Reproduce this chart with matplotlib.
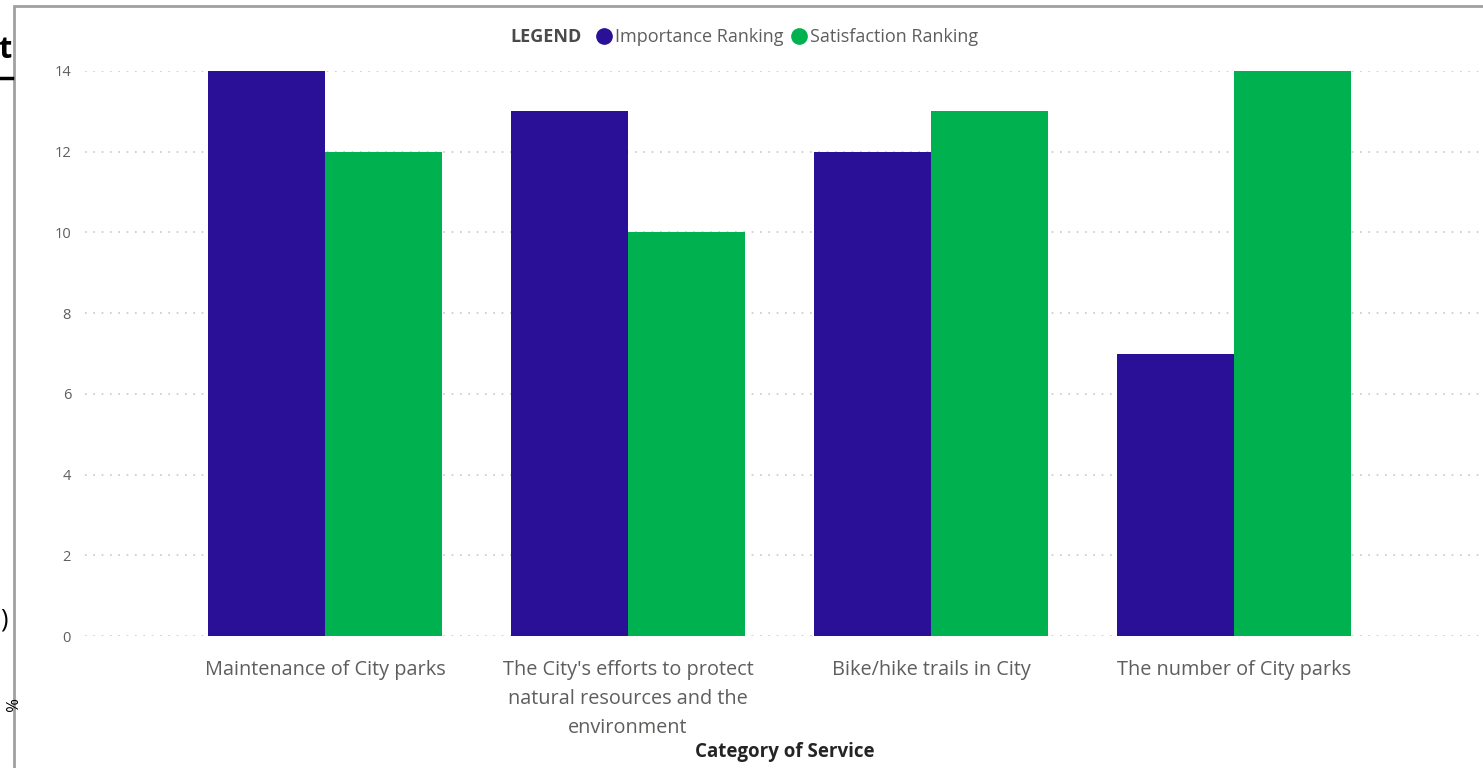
import numpy as np
import matplotlib.pyplot as plt
from matplotlib.lines import Line2D
from matplotlib.patches import Rectangle

# data
categories = ["Maintenance of City parks",
              "The City's efforts to protect\nnatural resources and the\nenvironment",
              "Bike/hike trails in City",
              "The number of City parks"]
importance = [14, 13, 12, 7]
satisfaction = [12, 10, 13, 14]
series_names = ["Importance Ranking", "Satisfaction Ranking"]
yticks = [0, 2, 4, 6, 8, 10, 12, 14]

purple = "#2A1097"
green = "#00B14F"
grey_txt = "#605E5C"

plt.rcParams['font.family'] = ['Open Sans', 'DejaVu Sans']

W, H = 1483, 768
fig = plt.figure(figsize=(W / 100, H / 100), dpi=100)

# axes in pixel terms: left 85, right 1483, y0 at 636, y14 at 71
ax = fig.add_axes([85 / W, 1 - 636 / H, (1483 - 85) / W, (636 - 71) / H])

x = np.arange(len(categories))
bw = 0.386
ax.bar(x - bw / 2, importance, bw, color=purple, zorder=3)
ax.bar(x + bw / 2, satisfaction, bw, color=green, zorder=3)

ax.set_xlim(-0.792, 3.822)
ax.set_ylim(0, 14)
ax.set_yticks(yticks)
ax.set_yticklabels([str(v) for v in yticks], fontsize=10.5, color=grey_txt)
ax.set_xticks(x)
ax.set_xticklabels(categories, fontsize=14.3, color=grey_txt, linespacing=1.62, va="top")
ax.tick_params(length=0)
ax.tick_params(axis="x", pad=17)
ax.tick_params(axis="y", pad=10)
for s in ax.spines.values():
    s.set_visible(False)
ax.yaxis.grid(True, linestyle=(0, (1, 4)), color="#C8C8C8", linewidth=1.2, zorder=0)
ax.set_axisbelow(True)
ax.patch.set_alpha(0)

fig.text(785 / W, 1 - 752 / H, "Category of Service", ha="center", va="center",
         fontsize=13.5, fontweight="bold", color="#252423")

# legend
fig.text(510 / W, 1 - 37 / H, "LEGEND", ha="left", va="center",
         fontsize=13, fontweight="bold", color="#4A4A4A")
handles = [Line2D([], [], marker="o", linestyle="", markersize=11, color=c) for c in (purple, green)]
fig.legend(handles, series_names, loc="center left", bbox_to_anchor=(595 / W, 1 - 37 / H),
           ncol=2, frameon=False, handletextpad=0.11, columnspacing=0.33,
           handlelength=1.0, borderpad=0, borderaxespad=0, prop={'size': 13},
           labelcolor=grey_txt)

# visual frame
fig.add_artist(Rectangle((14 / W, -0.1), 1.2, 1 - 6 / H + 0.1, transform=fig.transFigure,
                         fill=False, edgecolor="#A0A0A0", linewidth=2))

# cropped fragments at the left edge
fig.text(-2 / W, 1 - 50 / H, "t", ha="left", va="center", fontsize=22,
         fontweight="bold", color="black")
fig.add_artist(Line2D([0, 12 / W], [1 - 78 / H, 1 - 78 / H], transform=fig.transFigure,
                      color="black", linewidth=2.5))
fig.text(0, 1 - 620 / H, ")", ha="left", va="center", fontsize=18, color="black")
fig.text(0, 1 - 705 / H, "%", ha="left", va="center", fontsize=12, color="black", rotation=-90)

fig.savefig("out.png", dpi=100)
